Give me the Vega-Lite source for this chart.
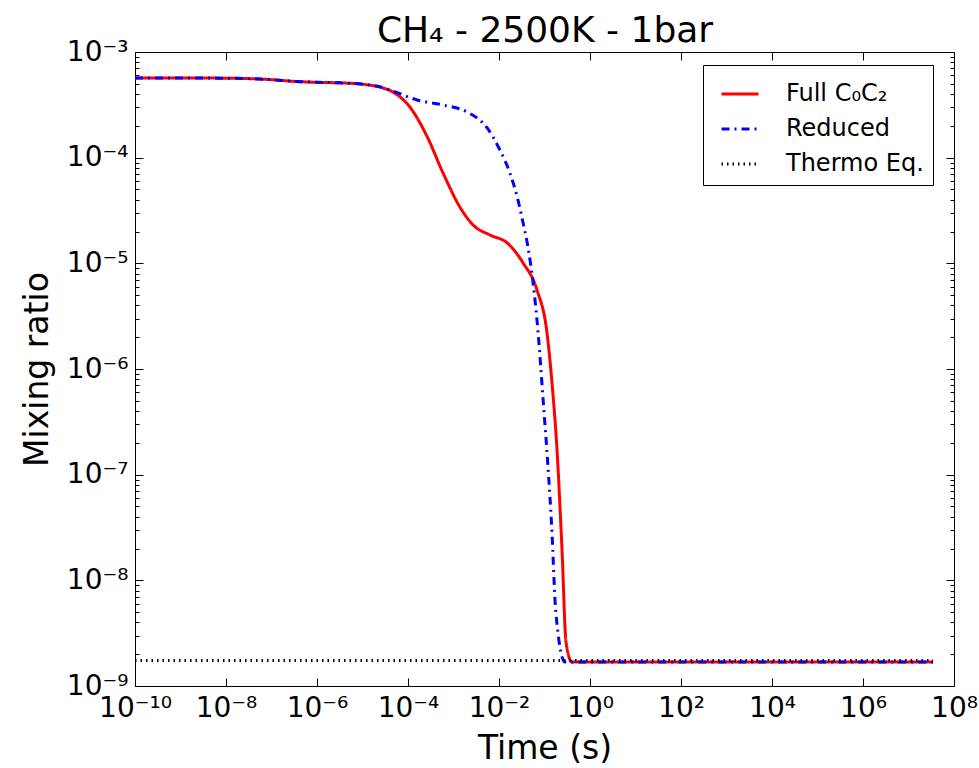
{
  "$schema": "https://vega.github.io/schema/vega-lite/v6.json",
  "width": 819,
  "height": 634,
  "autosize": {"type": "none"},
  "padding": {"left": 135, "top": 52, "right": 25, "bottom": 82},
  "background": "white",
  "config": {
    "view": {"stroke": "black", "strokeWidth": 1},
    "font": "DejaVu Sans",
    "axis": {"grid": false, "domainColor": "black", "tickColor": "black", "labelColor": "black", "titleColor": "black", "labelFont": "DejaVu Sans", "titleFont": "DejaVu Sans", "titleFontWeight": "normal"}
  },
  "data": {"values": [
    {"t": 1e-10, "v": 5.675e-4, "s": "Full C₀C₂"},
    {"t": 1e-9, "v": 5.675e-4, "s": "Full C₀C₂"},
    {"t": 1e-8, "v": 5.649e-4, "s": "Full C₀C₂"},
    {"t": 3.162e-8, "v": 5.598e-4, "s": "Full C₀C₂"},
    {"t": 1e-7, "v": 5.47e-4, "s": "Full C₀C₂"},
    {"t": 3.162e-7, "v": 5.272e-4, "s": "Full C₀C₂"},
    {"t": 1e-6, "v": 5.164e-4, "s": "Full C₀C₂"},
    {"t": 3.162e-6, "v": 5.105e-4, "s": "Full C₀C₂"},
    {"t": 1e-5, "v": 4.955e-4, "s": "Full C₀C₂"},
    {"t": 2.512e-5, "v": 4.624e-4, "s": "Full C₀C₂"},
    {"t": 4.677e-5, "v": 4.178e-4, "s": "Full C₀C₂"},
    {"t": 1.096e-4, "v": 3.02e-4, "s": "Full C₀C₂"},
    {"t": 2.63e-4, "v": 1.585e-4, "s": "Full C₀C₂"},
    {"t": 5.888e-4, "v": 7.161e-5, "s": "Full C₀C₂"},
    {"t": 1.38e-3, "v": 3.412e-5, "s": "Full C₀C₂"},
    {"t": 2.692e-3, "v": 2.307e-5, "s": "Full C₀C₂"},
    {"t": 6.31e-3, "v": 1.854e-5, "s": "Full C₀C₂"},
    {"t": 1.514e-2, "v": 1.56e-5, "s": "Full C₀C₂"},
    {"t": 3.388e-2, "v": 1.007e-5, "s": "Full C₀C₂"},
    {"t": 6.839e-2, "v": 5.598e-6, "s": "Full C₀C₂"},
    {"t": 0.1135, "v": 2.193e-6, "s": "Full C₀C₂"},
    {"t": 0.1462, "v": 7.379e-7, "s": "Full C₀C₂"},
    {"t": 0.1884, "v": 1.714e-7, "s": "Full C₀C₂"},
    {"t": 0.2427, "v": 1.936e-8, "s": "Full C₀C₂"},
    {"t": 0.2972, "v": 2.612e-9, "s": "Full C₀C₂"},
    {"t": 0.4018, "v": 1.683e-9, "s": "Full C₀C₂"},
    {"t": 1, "v": 1.683e-9, "s": "Full C₀C₂"},
    {"t": 3.467e7, "v": 1.683e-9, "s": "Full C₀C₂"},
    {"t": 1e-10, "v": 5.675e-4, "s": "Reduced"},
    {"t": 1e-9, "v": 5.675e-4, "s": "Reduced"},
    {"t": 1e-8, "v": 5.649e-4, "s": "Reduced"},
    {"t": 3.162e-8, "v": 5.598e-4, "s": "Reduced"},
    {"t": 1e-7, "v": 5.47e-4, "s": "Reduced"},
    {"t": 3.162e-7, "v": 5.272e-4, "s": "Reduced"},
    {"t": 1e-6, "v": 5.164e-4, "s": "Reduced"},
    {"t": 3.162e-6, "v": 5.105e-4, "s": "Reduced"},
    {"t": 1e-5, "v": 4.955e-4, "s": "Reduced"},
    {"t": 2.512e-5, "v": 4.677e-4, "s": "Reduced"},
    {"t": 4.677e-5, "v": 4.276e-4, "s": "Reduced"},
    {"t": 1.585e-4, "v": 3.516e-4, "s": "Reduced"},
    {"t": 5.888e-4, "v": 3.148e-4, "s": "Reduced"},
    {"t": 1.995e-3, "v": 2.704e-4, "s": "Reduced"},
    {"t": 5.495e-3, "v": 1.91e-4, "s": "Reduced"},
    {"t": 1.047e-2, "v": 1.183e-4, "s": "Reduced"},
    {"t": 1.738e-2, "v": 7.161e-5, "s": "Reduced"},
    {"t": 2.512e-2, "v": 4.246e-5, "s": "Reduced"},
    {"t": 3.388e-2, "v": 2.41e-5, "s": "Reduced"},
    {"t": 4.365e-2, "v": 1.396e-5, "s": "Reduced"},
    {"t": 5.623e-2, "v": 6.516e-6, "s": "Reduced"},
    {"t": 7.244e-2, "v": 2.193e-6, "s": "Reduced"},
    {"t": 9.333e-2, "v": 5.093e-7, "s": "Reduced"},
    {"t": 0.1194, "v": 1.183e-7, "s": "Reduced"},
    {"t": 0.1462, "v": 2.805e-8, "s": "Reduced"},
    {"t": 0.1702, "v": 6.516e-9, "s": "Reduced"},
    {"t": 0.1982, "v": 3.177e-9, "s": "Reduced"},
    {"t": 0.2427, "v": 1.884e-9, "s": "Reduced"},
    {"t": 0.2825, "v": 1.683e-9, "s": "Reduced"},
    {"t": 1, "v": 1.683e-9, "s": "Reduced"},
    {"t": 3.467e7, "v": 1.683e-9, "s": "Reduced"},
    {"t": 1e-10, "v": 1.742e-9, "s": "Thermo Eq."},
    {"t": 3.467e7, "v": 1.742e-9, "s": "Thermo Eq."}
  ]},
  "layer": [
    {
      "mark": {"type": "line", "clip": true, "interpolate": "monotone"},
      "encoding": {
        "x": {"field": "t", "type": "quantitative", "scale": {"type": "log", "domain": [1e-10, 1e8], "nice": false},
          "axis": {"orient": "bottom", "title": "Time (s)", "titleFontSize": 33, "titlePadding": 10, "values": [1e-10, 1e-8, 1e-6, 1e-4, 1e-2, 1, 100, 1e4, 1e6, 1e8],
            "labelExpr": "'10' + replace(replace(replace(replace(replace(replace(replace(replace(replace(replace(replace(toString(round(log(datum.value)/LN10)),'-','⁻'),'0','⁰'),'1','¹'),'2','²'),'3','³'),'4','⁴'),'5','⁵'),'6','⁶'),'7','⁷'),'8','⁸'),'9','⁹')",
            "labelFontSize": 28, "tickSize": -8, "labelPadding": 16, "labelFlush": false, "labelOverlap": false}},
        "y": {"field": "v", "type": "quantitative", "scale": {"type": "log", "domain": [1e-9, 1e-3], "nice": false},
          "axis": {"orient": "left", "title": "Mixing ratio", "titleFontSize": 33, "titlePadding": 12,
            "values": [1e-9, 2e-9, 3e-9, 4e-9, 5e-9, 6e-9, 7e-9, 8e-9, 9e-9, 1e-8, 2e-8, 3e-8, 4e-8, 5e-8, 6e-8, 7e-8, 8e-8, 9e-8, 1e-7, 2e-7, 3e-7, 4e-7, 5e-7, 6e-7, 7e-7, 8e-7, 9e-7, 1e-6, 2e-6, 3e-6, 4e-6, 5e-6, 6e-6, 7e-6, 8e-6, 9e-6, 1e-5, 2e-5, 3e-5, 4e-5, 5e-5, 6e-5, 7e-5, 8e-5, 9e-5, 1e-4, 2e-4, 3e-4, 4e-4, 5e-4, 6e-4, 7e-4, 8e-4, 9e-4, 1e-3],
            "labelExpr": "abs(log(datum.value)/LN10 - round(log(datum.value)/LN10)) < 0.01 ? '10' + replace(replace(replace(replace(replace(replace(replace(replace(replace(replace(replace(toString(round(log(datum.value)/LN10)),'-','⁻'),'0','⁰'),'1','¹'),'2','²'),'3','³'),'4','⁴'),'5','⁵'),'6','⁶'),'7','⁷'),'8','⁸'),'9','⁹') : ''",
            "labelFontSize": 28, "tickSize": {"condition": {"test": "abs(log(datum.value)/LN10 - round(log(datum.value)/LN10)) < 0.01", "value": -8}, "value": -4}, "labelPadding": 15, "labelOverlap": false, "labelFlush": false}},
        "color": {"field": "s", "type": "nominal", "scale": {"domain": ["Full C₀C₂", "Reduced", "Thermo Eq."], "range": ["#ff0000", "#0000ff", "#000000"]},
          "legend": {"title": null, "orient": "none", "legendX": 568, "legendY": 13, "symbolType": "stroke", "symbolSize": 1369, "labelFontSize": 24, "labelFont": "DejaVu Sans", "labelColor": "black", "padding": 9, "symbolOffset": 8, "labelOffset": 26, "rowPadding": 3, "strokeColor": "black", "fillColor": "white", "cornerRadius": 0}},
        "strokeDash": {"field": "s", "type": "nominal", "scale": {"domain": ["Full C₀C₂", "Reduced", "Thermo Eq."], "range": [[1, 0], [8, 5, 2, 5], [1.5, 4]]}, "legend": null},
        "strokeWidth": {"field": "s", "type": "nominal", "scale": {"domain": ["Full C₀C₂", "Reduced", "Thermo Eq."], "range": [3, 3, 1.2]}, "legend": null}
      }
    },
    {
      "mark": {"type": "line", "opacity": 0},
      "encoding": {
        "x": {"field": "t", "type": "quantitative", "axis": {"orient": "top", "title": "CH₄ - 2500K - 1bar", "titleFontSize": 36, "titleBaseline": "alphabetic", "titlePadding": 10, "labels": false, "values": [1e-10, 1e-8, 1e-6, 1e-4, 1e-2, 1, 100, 1e4, 1e6, 1e8], "tickSize": -8}},
        "y": {"field": "v", "type": "quantitative", "axis": {"orient": "right", "title": null, "labels": false,
          "values": [1e-9, 2e-9, 3e-9, 4e-9, 5e-9, 6e-9, 7e-9, 8e-9, 9e-9, 1e-8, 2e-8, 3e-8, 4e-8, 5e-8, 6e-8, 7e-8, 8e-8, 9e-8, 1e-7, 2e-7, 3e-7, 4e-7, 5e-7, 6e-7, 7e-7, 8e-7, 9e-7, 1e-6, 2e-6, 3e-6, 4e-6, 5e-6, 6e-6, 7e-6, 8e-6, 9e-6, 1e-5, 2e-5, 3e-5, 4e-5, 5e-5, 6e-5, 7e-5, 8e-5, 9e-5, 1e-4, 2e-4, 3e-4, 4e-4, 5e-4, 6e-4, 7e-4, 8e-4, 9e-4, 1e-3],
          "tickSize": {"condition": {"test": "abs(log(datum.value)/LN10 - round(log(datum.value)/LN10)) < 0.01", "value": -8}, "value": -4}}}
      }
    }
  ],
  "resolve": {"axis": {"x": "independent", "y": "independent"}}
}
